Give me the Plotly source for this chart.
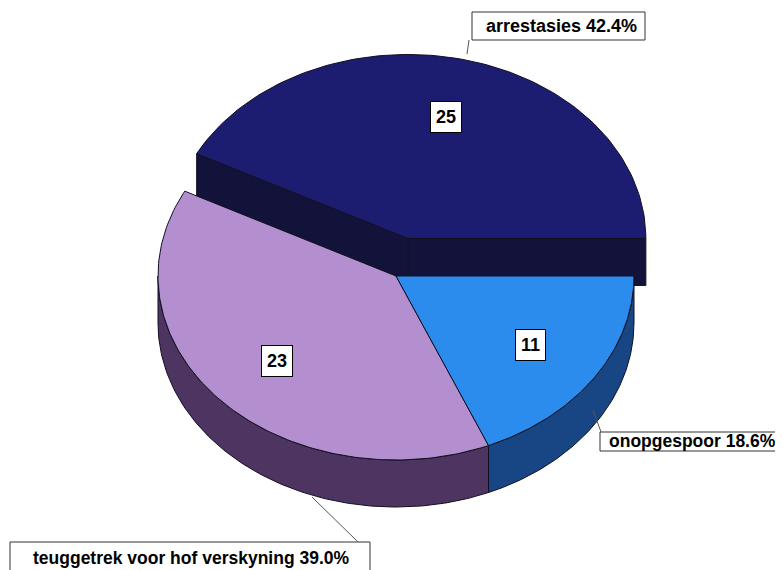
import numpy as np
import plotly.graph_objects as go

# ---- data (counter-clockwise from 3 o'clock) ----
labels = ["arrestasies", "teuggetrek voor hof verskyning", "onopgespoor"]
values = [25, 23, 11]
pulled = [True, False, False]

# ---- styling / geometry ----
W, H = 783, 570
BODY = 8  # default page margin of the html body
CX, CY, RX, RY = 396, 276, 238, 184
DEPTH = 47
PULL = 0.21
top_colors = ["#1c1c70", None, "#2c8cee"]
top_patterns = [None, dict(shape=".", fgcolor="#6a3c94", bgcolor="#dcbcee", size=2, solidity=0.7), None]
wall_patterns = [
    dict(shape=".", fgcolor="#06061c", bgcolor="#161644", size=2, solidity=0.6),
    dict(shape=".", fgcolor="#12061e", bgcolor="#6c4c84", size=2, solidity=0.7),
    dict(shape=".", fgcolor="#041020", bgcolor="#2262ba", size=2, solidity=0.7),
]
EDGE = "#101020"

total = sum(values)
fracs = [v / total for v in values]
starts = np.concatenate([[0], np.cumsum(fracs)[:-1]]) * 360
ends = np.cumsum(fracs) * 360


def P(theta, ox=0.0, oy=0.0, r=1.0, dz=0.0):
    t = np.radians(theta)
    return CX + ox + r * RX * np.cos(t), CY + oy - r * RY * np.sin(t) + dz


fig = go.Figure()


def poly(xs, ys, pattern=None, color=None):
    kw = dict(x=list(xs) + [xs[0]], y=list(ys) + [ys[0]], mode="lines", fill="toself",
              line=dict(color=EDGE, width=1), hoverinfo="skip", showlegend=False)
    if pattern is not None:
        kw["fillpattern"] = pattern
        kw["fillcolor"] = pattern["bgcolor"]
    else:
        kw["fillcolor"] = color
    fig.add_trace(go.Scatter(**kw))


offsets = []
for i in range(len(values)):
    if pulled[i]:
        mid = np.radians((starts[i] + ends[i]) / 2)
        offsets.append((PULL * RX * np.cos(mid), -PULL * RY * np.sin(mid)))
    else:
        offsets.append((0.0, 0.0))

# 1) exploded slice: cut faces then top
for i in range(len(values)):
    if not pulled[i]:
        continue
    ox, oy = offsets[i]
    for ang in (ends[i], starts[i]):
        ax, ay = P(0, ox, oy, r=0)
        rx_, ry_ = P(ang, ox, oy)
        poly([ax, rx_, rx_, ax], [ay, ry_, ry_ + DEPTH, ay + DEPTH], pattern=wall_patterns[i])
    th = np.linspace(starts[i], ends[i], 120)
    xs, ys = P(th, ox, oy)
    cx0, cy0 = P(0, ox, oy, r=0)
    poly([cx0] + list(xs), [cy0] + list(ys), pattern=top_patterns[i], color=top_colors[i])

# 2) outer walls of the other slices
for i in range(len(values)):
    if pulled[i]:
        continue
    a0, a1 = max(starts[i], 180), min(ends[i], 360)
    if a1 <= a0:
        continue
    ox, oy = offsets[i]
    th = np.linspace(a0, a1, 120)
    xt, yt = P(th, ox, oy)
    xb, yb = P(th[::-1], ox, oy, dz=DEPTH)
    poly(list(xt) + list(xb), list(yt) + list(yb), pattern=wall_patterns[i])

# 3) tops of the other slices
for i in range(len(values)):
    if pulled[i]:
        continue
    ox, oy = offsets[i]
    th = np.linspace(starts[i], ends[i], 150)
    xs, ys = P(th, ox, oy)
    cx0, cy0 = P(0, ox, oy, r=0)
    poly([cx0] + list(xs), [cy0] + list(ys), pattern=top_patterns[i], color=top_colors[i])

# value boxes
FONT = "Liberation Sans, Arial, sans-serif"
for i in range(len(values)):
    ox, oy = offsets[i]
    mx, my = P((starts[i] + ends[i]) / 2, ox, oy, r=0.68)
    fig.add_annotation(x=mx, y=my, text=f"<b>{values[i]}</b>", showarrow=False,
                       font=dict(family=FONT, size=18, color="black"),
                       bgcolor="white", bordercolor="black", borderwidth=1, borderpad=5)

# outer labels (box rect, text x-anchor, text y, font size, leader line)
outer = {
    "arrestasies": dict(box=(472, 12, 645, 40), tx=484, ty=26, fs=18, line=(469, 40, 467, 54)),
    "onopgespoor": dict(box=(600, 432, 800, 451), tx=607, ty=441, fs=17.5, line=(593, 410, 601, 432)),
    "teuggetrek voor hof verskyning": dict(box=(10, 542, 370, 590), tx=31, ty=558, fs=17.5, line=(312, 497, 358, 542)),
}
for i, lab in enumerate(labels):
    o = outer[lab]
    x0, y0, x1, y1 = o["box"]
    fig.add_shape(type="rect", x0=x0, y0=y0, x1=x1, y1=y1, line=dict(color="#333", width=1),
                  fillcolor="white")
    lx0, ly0, lx1, ly1 = o["line"]
    fig.add_shape(type="line", x0=lx0, y0=ly0, x1=lx1, y1=ly1, line=dict(color="#555", width=1))
    fig.add_annotation(x=o["tx"], y=o["ty"], xanchor="left", yanchor="middle",
                       text=f"<b>{lab} {fracs[i] * 100:.1f}%</b>", showarrow=False,
                       font=dict(family=FONT, size=o["fs"], color="black"))

fig.update_layout(
    width=W - BODY, height=H - BODY, margin=dict(l=0, r=0, t=0, b=0),
    paper_bgcolor="white", plot_bgcolor="white",
    xaxis=dict(range=[BODY, W], visible=False, fixedrange=True),
    yaxis=dict(range=[H, BODY], visible=False, fixedrange=True),
)
fig.write_html("out.html")
